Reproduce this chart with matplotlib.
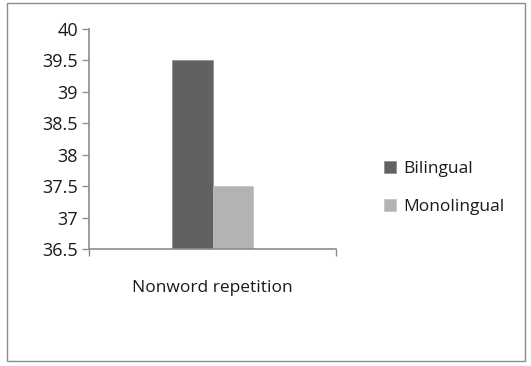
import numpy as np
import matplotlib.pyplot as plt
from matplotlib.patches import Rectangle

# data
categories = ["Nonword repetition"]
series = ["Bilingual", "Monolingual"]
bilingual = [39.5]
monolingual = [37.5]
colors = ["#616161", "#b3b3b3"]

plt.rcParams['font.family'] = ['Open Sans', 'DejaVu Sans']

fig = plt.figure(figsize=(5.31, 3.66), dpi=100)
W, H = 531, 366

# outer chart frame
fig.patches.append(Rectangle((7 / W, 1 - 361 / H), 518 / W, 358 / H,
                             transform=fig.transFigure, fill=False,
                             edgecolor="#8c8c8c", linewidth=1.0))

# axes placed by pixel box
left, right, top, bottom = 89, 336, 29, 249
ax = fig.add_axes([left / W, 1 - bottom / H, (right - left) / W, (bottom - top) / H])

x = np.arange(len(categories))
width = 0.165
ax.bar(x - width / 2, np.array(bilingual) - 36.5, width, bottom=36.5,
       color=colors[0], edgecolor="#8a8a8a", linewidth=0.5, label=series[0])
ax.bar(x + width / 2, np.array(monolingual) - 36.5, width, bottom=36.5,
       color=colors[1], edgecolor="#c0c0c0", linewidth=0.5, label=series[1])

ax.set_xlim(-0.5, 0.5)
ax.set_ylim(36.5, 40)
ax.set_yticks(np.arange(36.5, 40.01, 0.5))
ax.set_yticklabels(["36.5", "37", "37.5", "38", "38.5", "39", "39.5", "40"])

# x ticks only at the category boundaries, label centred
ax.set_xticks([-0.5, 0.5])
ax.set_xticklabels(["", ""])
ax.text(0, -0.178, categories[0], transform=ax.get_xaxis_transform(),
        ha="center", va="center", fontsize=12.5, color="#1a1a1a")

for s in ["top", "right"]:
    ax.spines[s].set_visible(False)
for s in ["left", "bottom"]:
    ax.spines[s].set_color("#8c8c8c")
    ax.spines[s].set_linewidth(1.2)
ax.tick_params(axis="both", colors="#8c8c8c", length=5, width=1)
ax.tick_params(axis="y", labelcolor="#1a1a1a", labelsize=13, pad=3)

fig.legend(loc="center left", bbox_to_anchor=(368 / W, 1 - 188 / H),
           frameon=False, fontsize=12.5, handlelength=0.7, handleheight=0.7,
           handletextpad=0.45, labelspacing=1.25, labelcolor="#1a1a1a")

fig.savefig("out.png", dpi=100, facecolor="white")
